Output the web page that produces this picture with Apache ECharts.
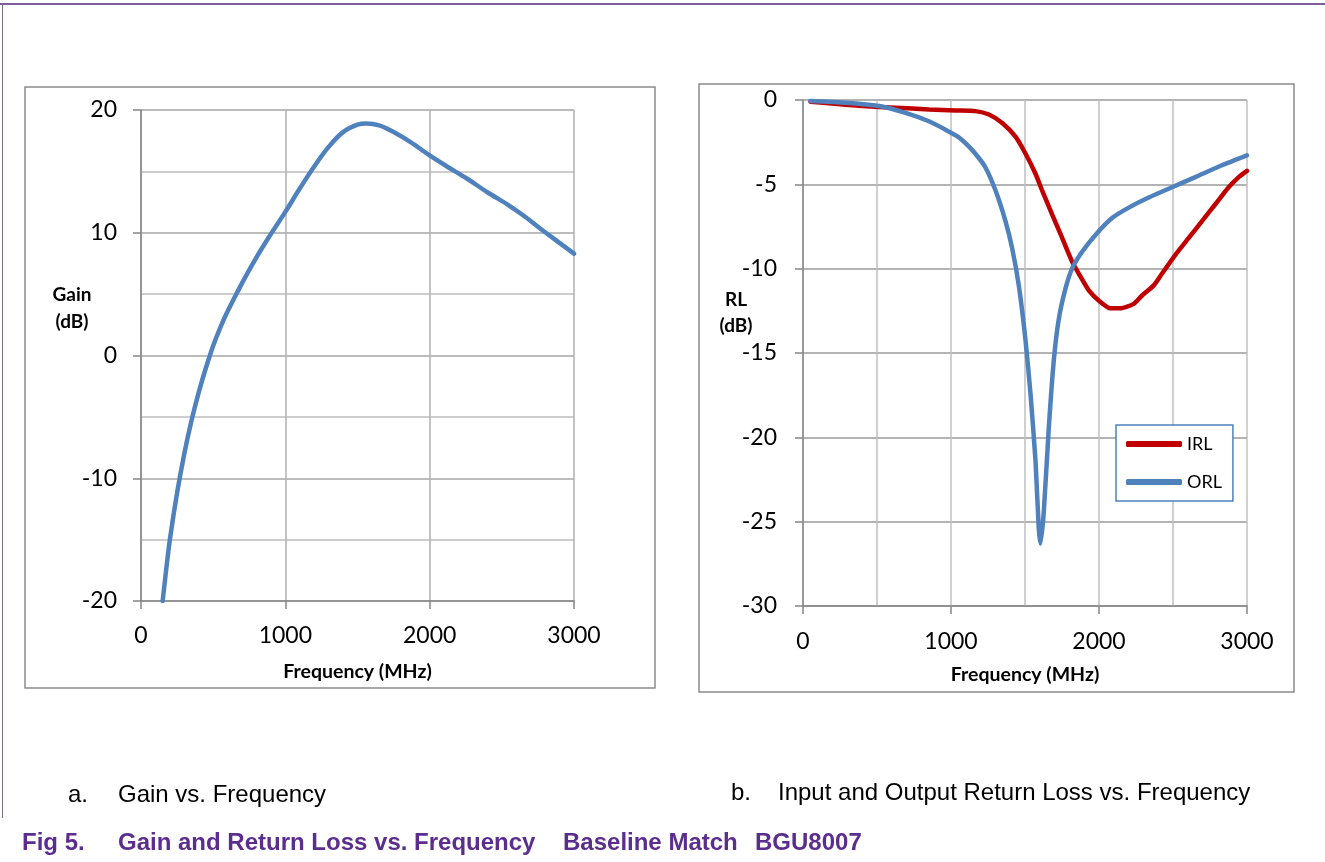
<!DOCTYPE html>
<html>
<head>
<meta charset="utf-8">
<script src="https://cdn.jsdelivr.net/npm/echarts@6/dist/echarts.min.js"></script>
<style>
html,body{margin:0;padding:0;background:#fff;}
#chart{width:1325px;height:862px;}
</style>
</head>
<body>
<div id="chart"></div>
<script>
// ---- Data ----
const gainFreq = [150, 175, 200, 250, 300, 350, 400, 450, 500, 550, 600, 700, 800, 900, 1000, 1100, 1200, 1300, 1400, 1500, 1560, 1650, 1750, 1865, 2000, 2120, 2260, 2400, 2540, 2650, 2770, 2885, 3000];
const gainValues = [-20, -17.4, -15.0, -11.2, -8.0, -5.3, -3.0, -1.0, 0.8, 2.3, 3.6, 5.9, 8.0, 9.9, 11.7, 13.6, 15.4, 17.0, 18.2, 18.8, 18.9, 18.75, 18.2, 17.4, 16.3, 15.4, 14.4, 13.3, 12.3, 11.4, 10.3, 9.3, 8.3];

const irlFreq = [50, 176, 400, 626, 851, 1031, 1166, 1256, 1346, 1436, 1503, 1571, 1616, 1683, 1751, 1818, 1863, 1931, 1998, 2077, 2144, 2235, 2291, 2370, 2426, 2516, 2606, 2696, 2786, 2876, 2944, 3000];
const irlValues = [-0.1, -0.2, -0.36, -0.46, -0.56, -0.62, -0.66, -0.86, -1.36, -2.17, -3.17, -4.37, -5.37, -6.78, -8.18, -9.58, -10.29, -11.29, -11.89, -12.35, -12.35, -12.09, -11.59, -10.99, -10.29, -9.18, -8.18, -7.18, -6.18, -5.17, -4.57, -4.2];

const orlFreq = [50, 288, 513, 693, 851, 963, 1050, 1120, 1180, 1233, 1301, 1368, 1413, 1458, 1503, 1537, 1571, 1593, 1605, 1627, 1661, 1695, 1728, 1773, 1818, 1886, 1976, 2088, 2201, 2336, 2494, 2651, 2831, 3000];
const orlValues = [-0.06, -0.16, -0.36, -0.76, -1.26, -1.76, -2.2, -2.75, -3.35, -4.0, -5.37, -7.18, -8.78, -10.99, -14.2, -17.4, -21.4, -25.4, -26.3, -24.4, -19.4, -15.4, -13.0, -11.2, -10.0, -9.0, -8.0, -7.0, -6.38, -5.78, -5.17, -4.57, -3.87, -3.28];

const seriesNames = ['IRL', 'ORL'];

const zip = (xs, ys) => xs.map((x, i) => [x, ys[i]]);

const plainNum = v => String(v);
const labelFont = {color: '#000', fontFamily: 'Lato', fontSize: 23, formatter: plainNum};
const nameFont = {color: '#000', fontFamily: 'Lato', fontSize: 19.5, fontWeight: 'bold'};
const axisCol = '#868686';

const chart = echarts.init(document.getElementById('chart'));
chart.setOption({
  backgroundColor: '#fff',
  animation: false,
  grid: [
    {left: 141, top: 110, width: 433, height: 491},
    {left: 803, top: 100, width: 444, height: 506}
  ],
  xAxis: [
    {
      type: 'value', gridIndex: 0, min: 0, max: 3000, interval: 1000,
      name: 'Frequency (MHz)', nameLocation: 'middle', nameGap: 61, nameTextStyle: nameFont,
      axisLine: {show: true, onZero: false, lineStyle: {color: axisCol, width: 1.5}},
      axisTick: {show: true, length: 8, lineStyle: {color: axisCol, width: 1.5}},
      axisLabel: Object.assign({margin: 23}, labelFont),
      splitLine: {show: true, lineStyle: {color: '#b0b0b0', width: 1.5}}
    },
    {
      type: 'value', gridIndex: 1, min: 0, max: 3000, interval: 1000,
      name: 'Frequency (MHz)', nameLocation: 'middle', nameGap: 59, nameTextStyle: nameFont,
      axisLine: {show: true, onZero: false, lineStyle: {color: axisCol, width: 1.5}},
      axisTick: {show: true, length: 8, lineStyle: {color: axisCol, width: 1.5}},
      axisLabel: Object.assign({margin: 24}, labelFont),
      splitLine: {show: true, lineStyle: {color: '#c0c0c0', width: 1.5}},
      minorTick: {show: false, splitNumber: 2},
      minorSplitLine: {show: true, lineStyle: {color: '#c0c0c0', width: 1.5}}
    }
  ],
  yAxis: [
    {
      type: 'value', gridIndex: 0, min: -20, max: 20, interval: 10,
      axisLine: {show: true, onZero: false, lineStyle: {color: axisCol, width: 1.5}},
      axisTick: {show: true, length: 8, lineStyle: {color: axisCol, width: 1.5}},
      axisLabel: Object.assign({margin: 24}, labelFont),
      splitLine: {show: true, lineStyle: {color: '#a6a6a6', width: 1.5}},
      minorTick: {show: false, splitNumber: 2},
      minorSplitLine: {show: true, lineStyle: {color: '#bdbdbd', width: 1.5}}
    },
    {
      type: 'value', gridIndex: 1, min: -30, max: 0, interval: 5,
      axisLine: {show: true, onZero: false, lineStyle: {color: axisCol, width: 1.5}},
      axisTick: {show: true, length: 8, lineStyle: {color: axisCol, width: 1.5}},
      axisLabel: Object.assign({margin: 26}, labelFont),
      splitLine: {show: true, lineStyle: {color: '#9a9a9a', width: 1.5}}
    }
  ],
  legend: {
    data: seriesNames,
    orient: 'vertical',
    left: 1116, top: 425,
    padding: [10, 11, 10, 10],
    itemGap: 20,
    itemWidth: 56, itemHeight: 6,
    icon: 'roundRect',
    borderColor: '#4f81bd', borderWidth: 1.5,
    backgroundColor: '#fff',
    textStyle: {color: '#000', fontFamily: 'Lato', fontSize: 18}
  },
  series: [
    {
      name: 'Gain', type: 'line', xAxisIndex: 0, yAxisIndex: 0,
      data: zip(gainFreq, gainValues), showSymbol: false, smooth: 0.35,
      lineStyle: {color: '#4f81bd', width: 4.5, cap: 'round'}, itemStyle: {color: '#4f81bd'}
    },
    {
      name: 'IRL', type: 'line', xAxisIndex: 1, yAxisIndex: 1,
      data: zip(irlFreq, irlValues), showSymbol: false, smooth: 0.2,
      lineStyle: {color: '#c00000', width: 4.5, cap: 'round'}, itemStyle: {color: '#c00000'}
    },
    {
      name: 'ORL', type: 'line', xAxisIndex: 1, yAxisIndex: 1,
      data: zip(orlFreq, orlValues), showSymbol: false, smooth: 0.2,
      lineStyle: {color: '#4f81bd', width: 4.5, cap: 'round'}, itemStyle: {color: '#4f81bd'}
    }
  ],
  graphic: [
    {type: 'line', shape: {x1: 0, y1: 4, x2: 1325, y2: 4}, style: {stroke: '#4b2a7b', lineWidth: 1.5}},
    {type: 'line', shape: {x1: 2.5, y1: 4, x2: 2.5, y2: 818}, style: {stroke: '#7a6a90', lineWidth: 1}},
    {type: 'rect', z: -1, shape: {x: 25, y: 87, width: 630, height: 601}, style: {fill: 'none', stroke: '#8c8c8c', lineWidth: 1.5}},
    {type: 'rect', z: -1, shape: {x: 699, y: 84, width: 595, height: 608}, style: {fill: 'none', stroke: '#8c8c8c', lineWidth: 1.5}},
    {type: 'text', style: {text: 'Gain', x: 72, y: 295, textAlign: 'center', textVerticalAlign: 'middle', font: 'bold 19px Lato', fill: '#000'}},
    {type: 'text', style: {text: '(dB)', x: 72, y: 322, textAlign: 'center', textVerticalAlign: 'middle', font: 'bold 19px Lato', fill: '#000'}},
    {type: 'text', style: {text: 'RL', x: 736, y: 300, textAlign: 'center', textVerticalAlign: 'middle', font: 'bold 19px Lato', fill: '#000'}},
    {type: 'text', style: {text: '(dB)', x: 736, y: 326, textAlign: 'center', textVerticalAlign: 'middle', font: 'bold 19px Lato', fill: '#000'}},
    {type: 'text', style: {text: 'a.', x: 68, y: 795, textVerticalAlign: 'middle', font: '24px "Liberation Sans"', fill: '#000'}},
    {type: 'text', style: {text: 'Gain vs. Frequency', x: 118, y: 795, textVerticalAlign: 'middle', font: '24px "Liberation Sans"', fill: '#000'}},
    {type: 'text', style: {text: 'b.', x: 731, y: 793, textVerticalAlign: 'middle', font: '24px "Liberation Sans"', fill: '#000'}},
    {type: 'text', style: {text: 'Input and Output Return Loss vs. Frequency', x: 778, y: 793, textVerticalAlign: 'middle', font: '24px "Liberation Sans"', fill: '#000'}},
    {type: 'text', style: {text: 'Fig 5.', x: 22, y: 843, textVerticalAlign: 'middle', font: 'bold 24px "Liberation Sans"', fill: '#5b2d8e'}},
    {type: 'text', style: {text: 'Gain and Return Loss vs. Frequency', x: 118, y: 843, textVerticalAlign: 'middle', font: 'bold 24px "Liberation Sans"', fill: '#5b2d8e'}},
    {type: 'text', style: {text: 'Baseline Match', x: 563, y: 843, textVerticalAlign: 'middle', font: 'bold 24px "Liberation Sans"', fill: '#5b2d8e'}},
    {type: 'text', style: {text: 'BGU8007', x: 755, y: 843, textVerticalAlign: 'middle', font: 'bold 24px "Liberation Sans"', fill: '#5b2d8e'}}
  ]
});
</script>
</body>
</html>
